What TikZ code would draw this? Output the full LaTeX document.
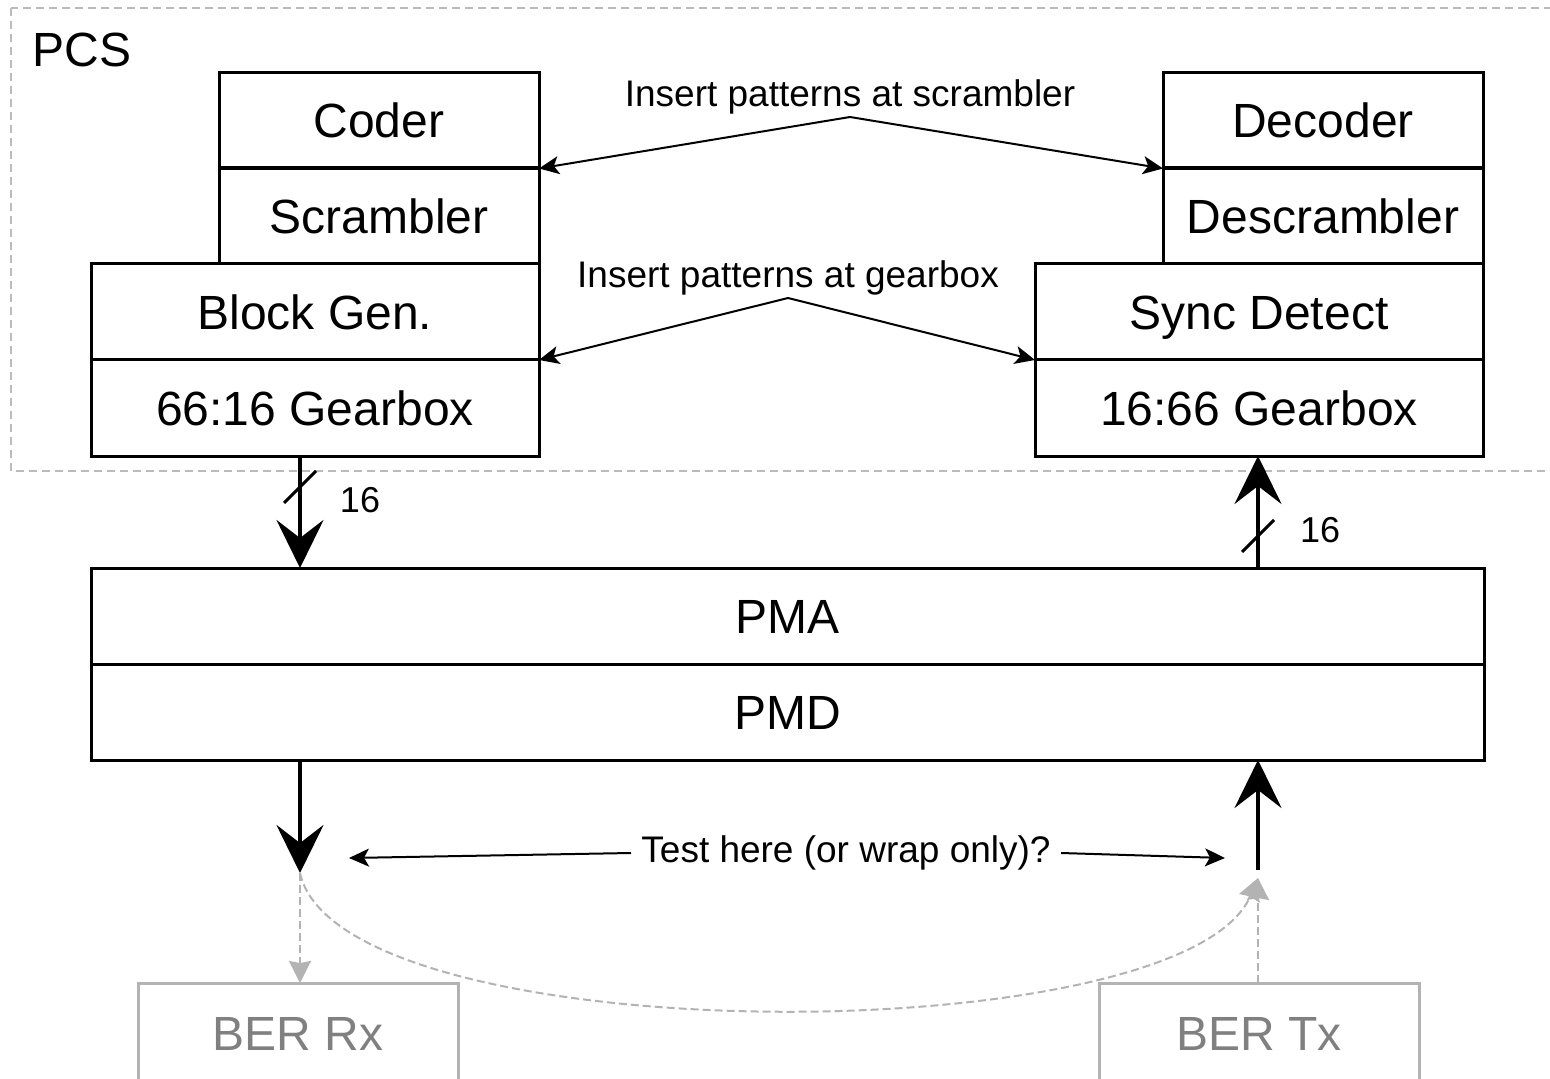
\documentclass[tikz,border=0pt]{standalone}
\usepackage{fontspec}
\setmainfont{Liberation Sans}
\usetikzlibrary{arrows.meta}
\definecolor{framegray}{HTML}{BBBBBB}
\definecolor{bergray}{HTML}{B3B3B3}
\definecolor{bertext}{HTML}{808080}

\begin{document}
\begin{tikzpicture}[x=0.5pt,y=-0.5pt,
	layer/.style={draw, line width=1.5pt, inner sep=0pt, outer sep=0pt, minimum height=48pt, text height=17.5pt, text depth=0pt, font=\fontsize{24}{28}\selectfont},
	narrow/.style={layer, minimum width=160pt},
	wide/.style={layer, minimum width=224pt},
	tester/.style={layer, draw=bergray, text=bertext, minimum width=160pt, minimum height=50pt},
	note/.style={font=\fontsize{18.5}{22}\selectfont, inner sep=1pt},
	buslabel/.style={font=\fontsize{18}{21}\selectfont, inner sep=0pt},
	bus/.style={line width=2pt, -{Stealth[length=24pt,width=23.5pt,inset=9pt]}},
	pointer/.style={line width=1pt, -{Stealth[length=10pt,width=9pt,inset=2.5pt]}},
	wrap/.style={bergray, line width=1pt, dash pattern=on 4pt off 2pt, -{Stealth[length=11pt,width=11pt,inset=1pt]}}]
	\clip (0,0) rectangle (1550,1079);

	% PCS frame
	\draw[framegray, line width=1pt, dash pattern=on 4pt off 2.5pt] (11,8) rectangle (1560,471);
	\node[anchor=base west, inner sep=0pt, font=\fontsize{24}{28}\selectfont] (pcs) at (32,67) {PCS};

	% transmit stack
	\node[narrow] (coder) at (379,120.5) {Coder};
	\node[narrow] (scrambler) at (379,216) {Scrambler};
	\node[wide] (blockgen) at (315,312) {Block Gen.};
	\node[wide] (gearA) at (315,408) {66:16 Gearbox};

	% receive stack
	\node[narrow] (decoder) at (1323,120.5) {Decoder};
	\node[narrow] (descrambler) at (1323,216) {Descrambler};
	\node[wide] (sync) at (1259,312) {Sync Detect};
	\node[wide] (gearB) at (1259,408) {16:66 Gearbox};

	% physical layers
	\node[layer, minimum width=696.5pt] (pma) at (787.5,616) {PMA};
	\node[layer, minimum width=696.5pt] (pmd) at (787.5,712) {PMD};

	% pattern insertion points
	\node[note, anchor=south] (insscr) at (850,117) {Insert patterns at scrambler};
	\draw[pointer] (insscr.south) -- (coder.south east);
	\draw[pointer] (insscr.south) -- (decoder.south west);
	\node[note, anchor=south] (insgear) at (788,298) {Insert patterns at gearbox};
	\draw[pointer] (insgear.south) -- (blockgen.south east);
	\draw[pointer] (insgear.south) -- (sync.south west);

	% 16 bit buses
	\coordinate (rxcol) at (300,0);
	\coordinate (txcol) at (1258,0);
	\draw[bus] (gearA.south -| rxcol) -- (pma.north -| rxcol);
	\draw[bus] (pma.north -| txcol) -- (gearB.south -| txcol);
	\coordinate (slashA) at ([yshift=-15.5pt]gearA.south -| rxcol);
	\coordinate (slashB) at ([yshift=16pt]pma.north -| txcol);
	\draw[line width=1.5pt] (slashA) ++(-16,16) -- ++(32,-32);
	\draw[line width=1.5pt] (slashB) ++(-16,16) -- ++(32,-32);
	\node[buslabel] (widthA) at (360,500) {16};
	\node[buslabel] (widthB) at (1320,530) {16};

	% line side
	\coordinate (rxend) at (300,873);
	\coordinate (txend) at (1258,870);
	\draw[bus] (pmd.south -| rxcol) -- (rxend);
	\draw[bus] (txend) -- (pmd.south -| txcol);
	\node[note, inner xsep=5pt] (testq) at (846,853) {Test here (or wrap only)?};
	\coordinate (rxtest) at (349,858);
	\coordinate (txtest) at (1225,858);
	\draw[pointer] (testq.west) -- (rxtest);
	\draw[pointer] (testq.east) -- (txtest);

	% BER tester
	\node[tester] (berrx) at (298,1033) {BER Rx};
	\node[tester] (bertx) at (1259,1033) {BER Tx};
	\draw[wrap] (rxend) -- (berrx.north -| rxend);
	\draw[wrap] (bertx.north -| txend) -- ([yshift=-4pt]txend);
	\draw[wrap] (rxend) .. controls (340,1054) and (1183,1054) .. ([yshift=-4pt]txend);
\end{tikzpicture}
\end{document}
